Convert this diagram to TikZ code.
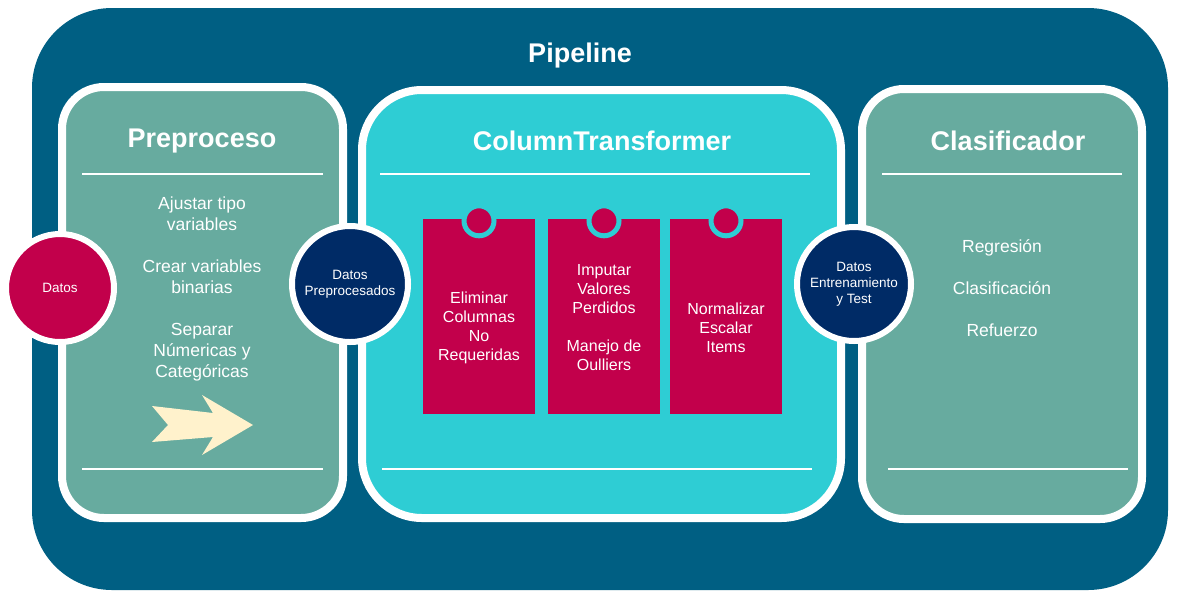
\documentclass[tikz,border=0pt]{standalone}
\usepackage{fontspec}
\setmainfont{Liberation Sans}
\usepackage{xcolor}
\usepackage{tikz}
\usetikzlibrary{positioning}
\definecolor{pipeblue}{HTML}{005F83}
\definecolor{panelgreen}{HTML}{67AB9F}
\definecolor{ctcyan}{HTML}{2ECDD4}
\definecolor{datared}{HTML}{C2004B}
\definecolor{datanavy}{HTML}{002B66}
\definecolor{arrowcream}{HTML}{FFF2CC}

\begin{document}
\begin{tikzpicture}[x=1pt,y=-1pt,
panel/.style={draw=white,line width=8pt,fill=panelgreen,rounded corners=42pt,inner sep=0pt},
title/.style={text=white,font=\fontsize{27}{32}\selectfont\bfseries},
body/.style={text=white,align=center,font=\fontsize{17.5}{21}\selectfont},
disc/.style={circle,draw=white,line width=6pt,text=white,align=center,inner sep=0pt,font=\fontsize{13.5}{16}\selectfont},
card/.style={fill=datared,minimum width=112pt,minimum height=195pt,inner sep=0pt},
cardtext/.style={text=white,align=center,font=\fontsize{16}{19}\selectfont},
pinhole/.style={circle,fill=datared,draw=ctcyan,line width=5pt,minimum size=30pt,inner sep=0pt},
rule/.style={draw=white,line width=1.8pt}]
\useasboundingbox (0,0) rectangle (1177,598);
\fill[pipeblue,rounded corners=80pt](32,8) rectangle (1168,590);
\node[title] (pipe) at (580,56) {Pipeline};

\node[panel,minimum width=281pt,minimum height=431pt] (prep) at (202.5,302.5) {};
\node[panel,fill=ctcyan,rounded corners=60pt,minimum width=479pt,minimum height=428pt] (ct) at (601.5,304) {};
\node[panel,minimum width=280pt,minimum height=430pt] (clf) at (1002,304) {};

\node[title] (preptitle) at (202,141) {Preproceso};
\node[title] (cttitle) at (602,141) {ColumnTransformer};
\node[title] (clftitle) at (1008,141) {Clasificador};
\draw[rule](82,174)--(323,174) (82,469)--(323,469);
\draw[rule](380,174)--(810,174) (382,469)--(812,469);
\draw[rule](882,174)--(1122,174) (888,469)--(1128,469);

\node[body] (preptext) at (202,289) {Ajustar tipo\\variables\\[21pt]Crear variables\\binarias\\[21pt]Separar\\Númericas y\\Categóricas};
\fill[arrowcream](152,406)--(168,425)--(152,442)--(213,437)--(202,455)--(253,425)--(202,395)--(213,413)--cycle;
\node[body] (clftext) at (1002,288) {Regresión\\[21pt]Clasificación\\[21pt]Refuerzo};

\node[card] (elim) at (479,316.5) {};
\node[card] (imput) at (604,316.5) {};
\node[card] (norm) at (726,316.5) {};
\node[pinhole] at ([yshift=-2pt]elim.north) (elimpin) {};
\node[pinhole] at ([yshift=-2pt]imput.north) (imputpin) {};
\node[pinhole] at ([yshift=-2pt]norm.north) (normpin) {};
\node[cardtext] (elimtext) at (479,328) {Eliminar\\Columnas\\No\\Requeridas};
\node[cardtext] (imputtext) at (604,318) {Imputar\\Valores\\Perdidos\\[19pt]Manejo de\\Oulliers};
\node[cardtext] (normtext) at (726,327.5) {Normalizar\\Escalar\\Items};

\node[disc,fill=datared,minimum size=108pt] (datos) at (60,288) {Datos};
\node[disc,fill=datanavy,minimum size=116pt] (prepdatos) at (350,284) {Datos\\Preprocesados};
\node[disc,fill=datanavy,minimum size=114pt] (traindatos) at (854,284) {Datos\\Entrenamiento\\y Test};
\end{tikzpicture}
\end{document}
